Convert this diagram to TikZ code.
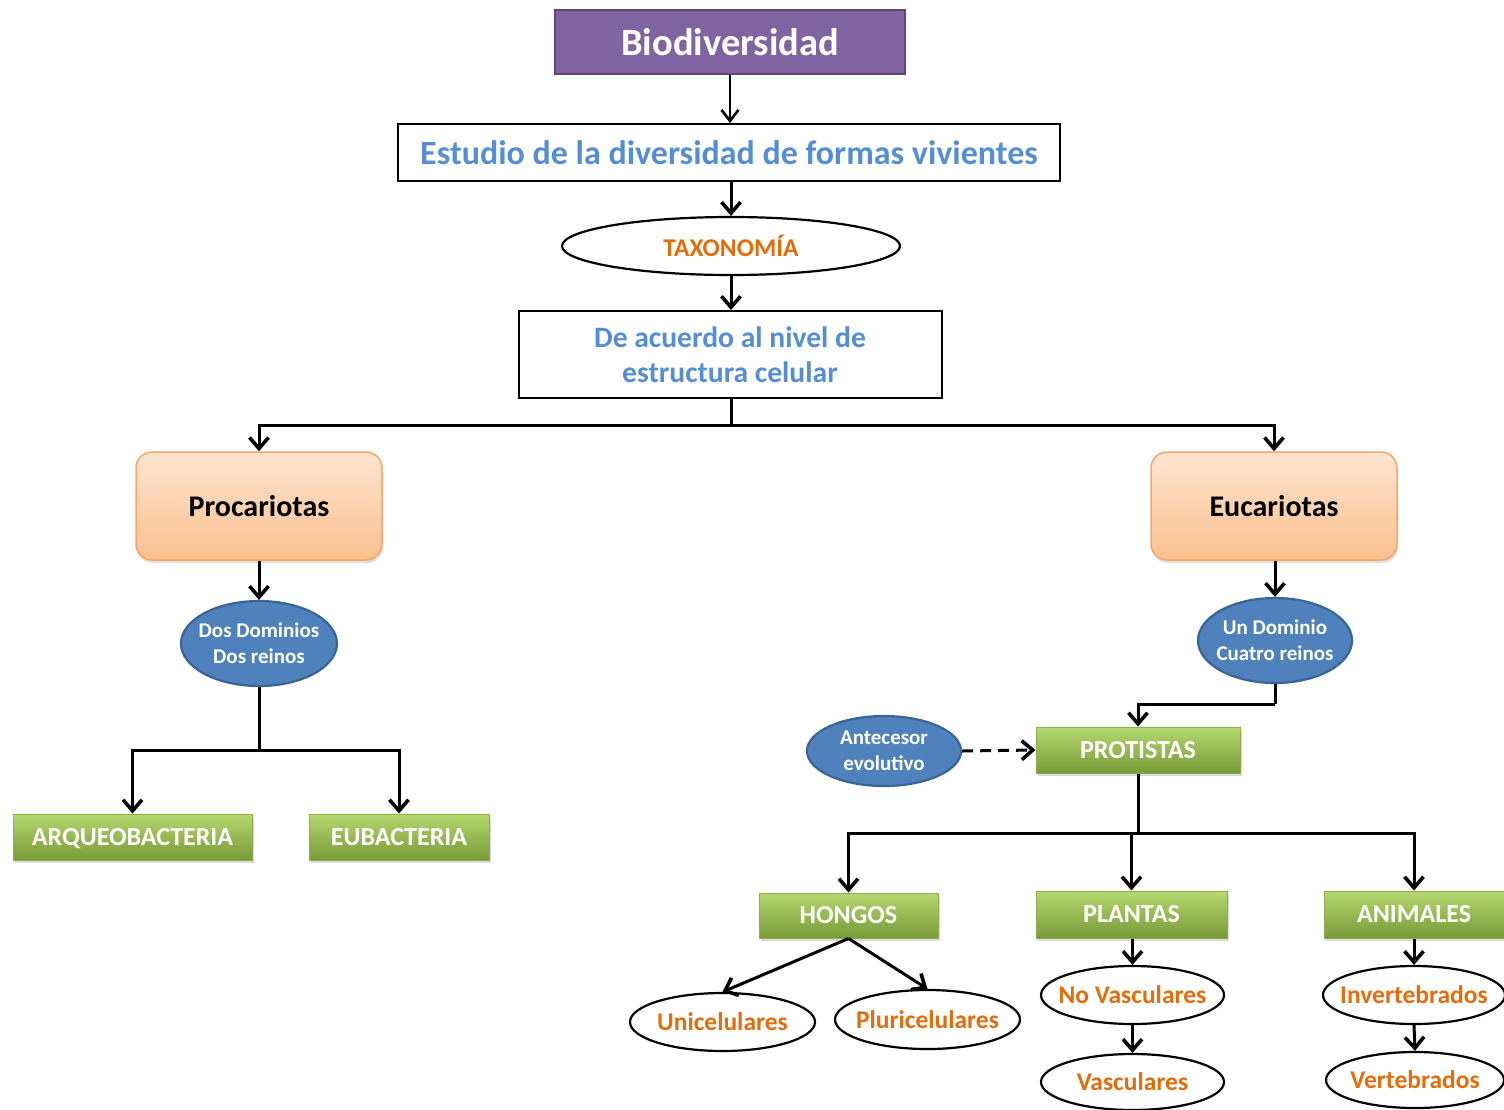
\documentclass[tikz,border=0pt]{standalone}
\usepackage{fontspec}
\setmainfont{Carlito}
\usetikzlibrary{arrows.meta,shapes.geometric,shadows}
\definecolor{purplefill}{HTML}{8064A2}
\definecolor{purpleline}{HTML}{5C4776}
\definecolor{bluetext}{HTML}{558ED5}
\definecolor{orangetext}{HTML}{E46C0A}
\definecolor{peachtop}{HTML}{FDE4D0}
\definecolor{peachbot}{HTML}{FAC08F}
\definecolor{peachline}{HTML}{F7A568}
\definecolor{bluefill}{HTML}{4F81BD}
\definecolor{blueline}{HTML}{3A6496}
\definecolor{greentop}{HTML}{B6D86F}
\definecolor{greenbot}{HTML}{789A38}
\definecolor{greenline}{HTML}{8DAF48}
\begin{document}
\begin{tikzpicture}[x=1pt,y=-1pt,
  every node/.style={inner sep=0pt, align=center},
  titlebox/.style={rectangle, fill=purplefill, draw=purpleline, line width=2pt,
    text=white, font=\fontsize{38.5}{44}\selectfont\bfseries},
  whitebox/.style={rectangle, fill=white, draw=black, line width=2pt,
    text=bluetext, font=\fontsize{34}{38}\selectfont\bfseries},
  whiteell/.style={ellipse, fill=white, draw=black, line width=2.2pt, inner xsep=-15pt, inner ysep=-4pt,
    text=orangetext, font=\fontsize{25.5}{28}\selectfont\bfseries},
  peachbox/.style={rectangle, rounded corners=16pt, top color=peachtop, bottom color=peachbot,
    draw=peachline, line width=1.5pt, text=black, font=\fontsize{30}{34}\selectfont\bfseries,
    drop shadow={shadow xshift=1pt, shadow yshift=-3pt, opacity=0.25}},
  blueell/.style={ellipse, fill=bluefill, draw=blueline, line width=2.2pt, inner xsep=-14pt, inner ysep=-8pt,
    text=white, font=\fontsize{21}{26}\selectfont\bfseries},
  greenbox/.style={rectangle, top color=greentop, bottom color=greenbot,
    draw=greenline, line width=1pt, text=white, font=\fontsize{26}{30}\selectfont\bfseries,
    text height=16.5pt, text depth=0pt,
    drop shadow={shadow xshift=2pt, shadow yshift=-3pt, opacity=0.3}},
  conn/.style={line width=3pt},
  arr/.style={line width=3pt, -{Straight Barb[length=11pt,width=19pt,line width=3.6pt]}},
  thinarr/.style={line width=2.2pt, -{Straight Barb[length=11pt,width=17pt,line width=2.6pt]}},
  dasharr/.style={line width=3pt, dash pattern=on 11pt off 7pt, -{Straight Barb[length=11pt,width=19pt,line width=3.6pt]}}
]
\useasboundingbox (0,0) rectangle (1504,1109);

\node[titlebox, minimum width=350pt, minimum height=64pt] (bio) at (730,42) {Biodiversidad};
\node[whitebox, minimum width=662pt, minimum height=57pt] (est) at (729,152.5) {Estudio de la diversidad de formas vivientes};
\node[whiteell, minimum width=338pt, minimum height=58pt] (tax) at (731,246) {TAXONOMÍA};
\node[whitebox, minimum width=423pt, minimum height=87pt, font=\fontsize{29.6}{35}\selectfont\bfseries] (deac) at (730,354.5) {De acuerdo al nivel de\\estructura celular};

\node[peachbox, minimum width=246pt, minimum height=108pt] (pro) at (259,506) {Procariotas};
\node[peachbox, minimum width=246pt, minimum height=108pt] (euc) at (1274,506) {Eucariotas};

\node[blueell, minimum width=156pt, minimum height=85pt] (dos) at (259,643.5) {Dos Dominios\\Dos reinos};
\node[blueell, minimum width=154pt, minimum height=85pt] (un) at (1275,640.5) {Un Dominio\\Cuatro reinos};

\node[greenbox, minimum width=239pt, minimum height=46pt] (arq) at (132.5,837) {ARQUEOBACTERIA};
\node[greenbox, minimum width=180pt, minimum height=46pt] (eub) at (399,837) {EUBACTERIA};

\node[greenbox, minimum width=204pt, minimum height=46pt] (prot) at (1138,750) {PROTISTAS};
\node[blueell, minimum width=154pt, minimum height=70pt] (ant) at (884,751) {Antecesor\\evolutivo};

\node[greenbox, minimum width=179pt, minimum height=45pt] (hon) at (848.5,915.5) {HONGOS};
\node[greenbox, minimum width=191pt, minimum height=47pt] (pla) at (1131.5,914.5) {PLANTAS};
\node[greenbox, minimum width=180pt, minimum height=47pt] (ani) at (1414,914.5) {ANIMALES};

\node[whiteell, minimum width=185pt, minimum height=58pt] (uni) at (722.5,1022) {Unicelulares};
\node[whiteell, minimum width=185pt, minimum height=59pt] (plu) at (927.5,1019.5) {Pluricelulares};
\node[whiteell, minimum width=183pt, minimum height=58pt] (nov) at (1132.5,995) {No Vasculares};
\node[whiteell, minimum width=183pt, minimum height=56pt] (vas) at (1132.5,1082) {Vasculares};
\node[whiteell, minimum width=182pt, minimum height=58pt] (inv) at (1414,995) {Invertebrados};
\node[whiteell, minimum width=178pt, minimum height=56pt] (ver) at (1415,1080) {Vertebrados};

% connectors
\draw[thinarr] (bio.south) -- (est.north -| bio.south);
\draw[arr] (est.south -| tax.north) -- (tax.north);
\draw[arr] (tax.south) -- (deac.north -| tax.south);

\coordinate (j1) at (731,425);
\draw[conn] (deac.south -| j1) -- (j1);
\draw[arr] (j1) -| (pro.north);
\draw[arr] (j1) -| (euc.north);

\draw[arr] (pro.south) -- (dos.north -| pro.south);
\coordinate (j2) at (259,750);
\draw[conn] (dos.south) -- (j2);
\draw[arr] (j2) -| (arq.north);
\draw[arr] (j2) -| (eub.north);

\draw[arr] (euc.south -| un.north) -- (un.north);
\coordinate (j4) at (1275,704);
\draw[conn] (un.south) -- (j4);
\draw[arr] (j4) -| (prot.north);

\draw[dasharr] (ant.east) -- (prot.west);

\coordinate (j3) at (1138,833);
\draw[conn] (prot.south) -- (j3);
\draw[arr] (j3) -| (hon.north);
\draw[arr] (j3) -| (ani.north);
\draw[arr] (pla.north |- j3) -- (pla.north);

\draw[arr] (hon.south) -- (uni.north);
\draw[arr] (hon.south) -- (plu.north);
\draw[arr] (pla.south -| nov.north) -- (nov.north);
\draw[arr] (nov.south) -- (vas.north);
\draw[arr] (ani.south) -- (inv.north);
\draw[arr] (inv.south) -- (ver.north);
\end{tikzpicture}
\end{document}
